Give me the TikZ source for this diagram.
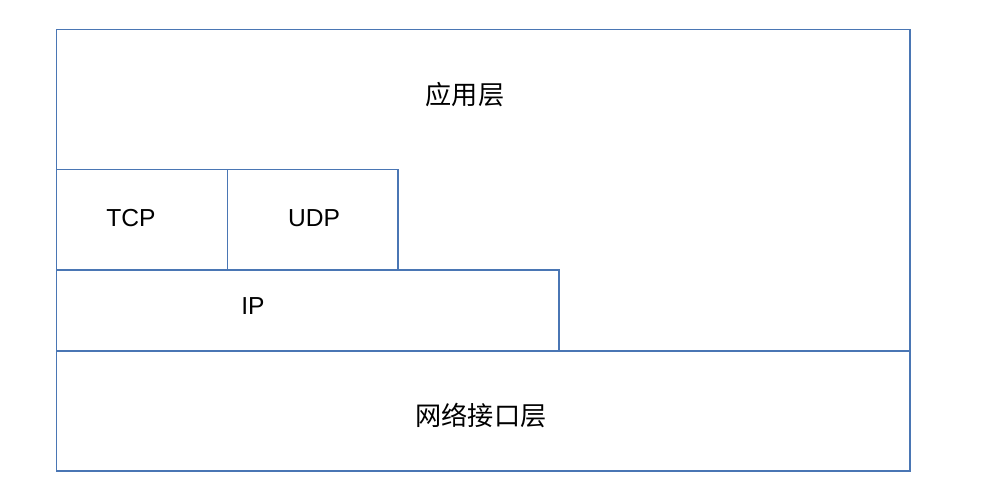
\documentclass[tikz,border=0pt]{standalone}
\usepackage{fontspec}
\setmainfont{Liberation Sans}
\newfontfamily\cjk{Noto Sans CJK SC}
\definecolor{layerblue}{HTML}{4A76B4}
\tikzset{
  layer/.style={draw=layerblue, line width=0.85pt, rectangle, inner sep=0pt, anchor=north west},
  txt/.style={font=\fontsize{14}{16}\selectfont, inner sep=0pt},
  cjktxt/.style={font=\fontsize{14.9}{17}\selectfont\cjk, inner sep=0pt}
}
\begin{document}
\begin{tikzpicture}[x=0.02cm, y=-0.02cm]
\useasboundingbox (0,0) rectangle (986,494);
\node[layer, minimum width=853*0.02cm, minimum height=321*0.02cm] (app) at (56,29){};
\node[layer, minimum width=171*0.02cm, minimum height=100*0.02cm] (tcp) at (56,169){};
\node[layer, minimum width=170*0.02cm, minimum height=100*0.02cm] (udp) at (227,169){};
\node[layer, minimum width=502*0.02cm, minimum height=81*0.02cm] (ip) at (56,269){};
\node[layer, minimum width=853*0.02cm, minimum height=120*0.02cm] (net) at (56,350){};
\node[cjktxt] (applbl) at (465,95){应用层};
\node[txt] (tcplbl) at (131,218){TCP};
\node[txt] (udplbl) at (314,218){UDP};
\node[txt] (iplbl) at (253,306){IP};
\node[cjktxt] (netlbl) at (481,415){网络接口层};
\end{tikzpicture}
\end{document}
